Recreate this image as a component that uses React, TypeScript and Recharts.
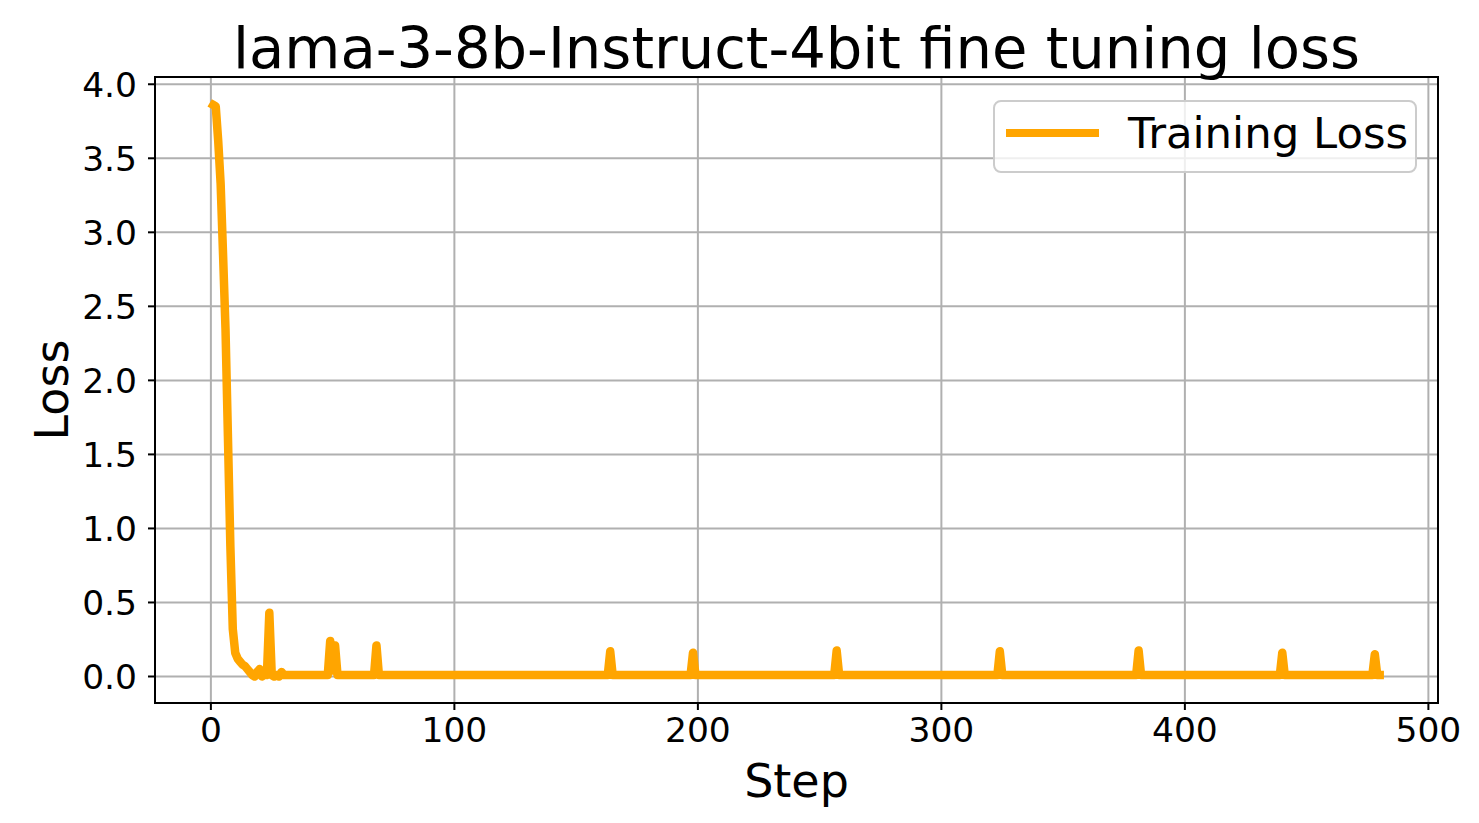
import React from 'react';
import {
  LineChart,
  Line,
  XAxis,
  YAxis,
  CartesianGrid,
  Legend,
  ReferenceArea
} from 'recharts';

// training steps (sparse where the curve sits flat on the baseline)
const steps = [
  1, 2, 3, 4, 5, 6, 7, 8, 9, 10,
  11, 12, 13, 14, 15, 16, 17, 18, 19, 20,
  21, 22, 23, 24, 25, 26, 27, 28, 29, 30,
  47, 48, 49, 50, 51, 52, 53,
  67, 68, 69,
  163, 164, 165,
  197, 198, 199,
  256, 257, 258,
  323, 324, 325,
  380, 381, 382,
  439, 440, 441,
  477, 478, 479, 480
];

const loss = [
  3.86, 3.85, 3.62, 3.33, 2.85, 2.35, 1.62, 0.88, 0.32, 0.16,
  0.12, 0.10, 0.08, 0.07, 0.05, 0.03, 0.01, 0.0, 0.03, 0.05,
  0.0, 0.02, 0.01, 0.43, 0.01, 0.0, 0.01, 0.0, 0.03, 0.01,
  0.01, 0.01, 0.24, 0.04, 0.21, 0.01, 0.01,
  0.01, 0.21, 0.01,
  0.01, 0.17, 0.01,
  0.01, 0.16, 0.01,
  0.01, 0.175, 0.01,
  0.01, 0.17, 0.01,
  0.01, 0.175, 0.01,
  0.01, 0.16, 0.01,
  0.01, 0.15, 0.01, 0.01
];

const xTicks = [0, 100, 200, 300, 400, 500];
const yTicks = [0, 0.5, 1.0, 1.5, 2.0, 2.5, 3.0, 3.5, 4.0];

const xDomain: [number, number] = [-22.95, 503.95];
const yDomain: [number, number] = [-0.179, 4.049];

const FONT = '"DejaVu Sans", sans-serif';
const ORANGE = '#ffa500';

const data = steps.map((step, i) => ({ step, loss: loss[i] }));

// eslint-disable-next-line @typescript-eslint/no-explicit-any
const renderLegend = (props: any) => {
  const entry = props.payload && props.payload[0];
  if (!entry) return null;
  return (
    <div
      style={{
        position: 'relative',
        width: 424,
        height: 73,
        boxSizing: 'border-box',
        border: '2px solid #cccccc',
        borderRadius: 8,
        background: 'rgba(255,255,255,0.8)',
        fontFamily: FONT
      }}
    >
      <div
        style={{
          position: 'absolute',
          left: 11,
          top: 27,
          width: 93,
          height: 8,
          background: entry.color
        }}
      />
      <div
        style={{
          position: 'absolute',
          left: 133,
          top: 9.5,
          fontSize: 43.4,
          lineHeight: '43.4px',
          color: '#000',
          whiteSpace: 'nowrap'
        }}
      >
        {entry.value}
      </div>
    </div>
  );
};

// eslint-disable-next-line @typescript-eslint/no-explicit-any
const XLabel = (props: any) => {
  const { x, y, width } = props.viewBox;
  return (
    <text
      x={x + width / 2}
      y={y + 94}
      textAnchor="middle"
      fontSize={46}
      fontFamily={FONT}
      fill="#000"
    >
      Step
    </text>
  );
};

// eslint-disable-next-line @typescript-eslint/no-explicit-any
const YLabel = (props: any) => {
  const { y, height } = props.viewBox;
  const cx = 60;
  const cy = y + height / 2;
  return (
    <text
      x={cx}
      y={cy}
      textAnchor="middle"
      fontSize={46}
      fontFamily={FONT}
      fill="#000"
      transform={`rotate(-90, ${cx}, ${cy})`}
    >
      Loss
    </text>
  );
};

export default function App() {
  const tickStyle = { fontSize: 34.5, fill: '#000', fontFamily: FONT };
  const black = { stroke: '#000', strokeWidth: 2 };

  return (
    <div style={{ position: 'relative', width: 1463, height: 807, fontFamily: FONT }}>
      <div
        style={{
          position: 'absolute',
          left: 147,
          top: 11.5,
          width: 1283,
          textAlign: 'center',
          fontSize: 57.6,
          lineHeight: '57.6px',
          color: '#000',
          whiteSpace: 'nowrap'
        }}
      >
        lama-3-8b-Instruct-4bit fine tuning loss
      </div>
      <LineChart
        width={1463}
        height={807}
        data={data}
        margin={{ top: 69, right: 33, bottom: 12, left: 0 }}
      >
        <CartesianGrid stroke="#b0b0b0" strokeWidth={2} />
        <XAxis
          dataKey="step"
          type="number"
          domain={xDomain}
          ticks={xTicks}
          interval={0}
          height={100}
          tick={tickStyle}
          tickLine={black}
          axisLine={black}
          tickSize={7}
          tickMargin={8}
          label={<XLabel />}
        />
        <YAxis
          type="number"
          domain={yDomain}
          ticks={yTicks}
          interval={0}
          width={147}
          tick={tickStyle}
          tickLine={black}
          axisLine={black}
          tickSize={7}
          tickMargin={11}
          tickFormatter={(v: number) => v.toFixed(1)}
          label={<YLabel />}
        />
        <ReferenceArea
          x1={xDomain[0]}
          x2={xDomain[1]}
          y1={yDomain[0]}
          y2={yDomain[1]}
          fill="none"
          stroke="#000"
          strokeWidth={2}
        />
        <Line
          type="linear"
          dataKey="loss"
          name="Training Loss"
          stroke={ORANGE}
          strokeWidth={8.5}
          strokeLinecap="square"
          strokeLinejoin="round"
          dot={false}
          activeDot={false}
          isAnimationActive={false}
        />
        <Legend
          verticalAlign="middle"
          layout="horizontal"
          wrapperStyle={{ left: 985, top: 92, width: 424, height: 73 }}
          content={renderLegend}
        />
      </LineChart>
    </div>
  );
}
